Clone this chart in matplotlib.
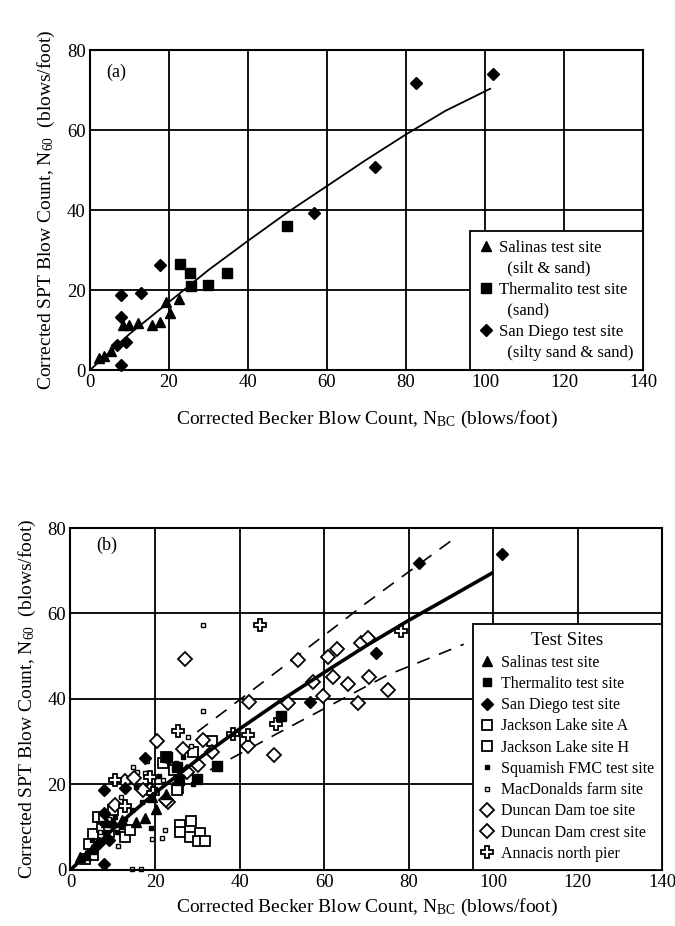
import numpy as np
import matplotlib.pyplot as plt
from matplotlib.lines import Line2D

plt.rcParams['font.family'] = 'Liberation Serif'
plt.rcParams['mathtext.fontset'] = 'custom'
plt.rcParams['mathtext.rm'] = 'Liberation Serif'
plt.rcParams['mathtext.it'] = 'Liberation Serif:italic'
plt.rcParams['mathtext.default'] = 'rm'

# datos (N_BC, N60)
salinas_x = [2.2, 3.6, 5.2, 8.3, 10.0, 12.2, 15.6, 17.7, 19.2, 20.3, 22.6]
salinas_y = [3.0, 3.5, 4.8, 11.3, 11.3, 11.7, 11.3, 12.1, 17.1, 14.2, 17.7]
thermalito_x = [22.9, 25.3, 25.7, 29.9, 34.6, 49.9]
thermalito_y = [26.5, 24.2, 21.0, 21.3, 24.3, 36.1]
sandiego_x = [6.8, 7.9, 7.9, 7.9, 9.0, 13.0, 17.6, 56.7, 72.2, 82.5, 102.0]
sandiego_y = [6.2, 18.8, 13.3, 1.3, 7.1, 19.2, 26.2, 39.2, 50.8, 71.7, 74.0]

jacksonA_x = [5.4, 5.4, 6.4, 7.5, 9.0, 12.9, 14.1, 21.9, 25.4, 33.4, 29.0, 24.5, 22.7, 25.1]
jacksonA_y = [3.5, 8.5, 12.3, 10.0, 9.0, 7.8, 9.3, 25.0, 19.1, 30.1, 27.7, 23.5, 26.5, 18.7]
jacksonH_x = [25.9, 28.6, 25.9, 28.3, 30.6, 30.2, 31.8, 3.5, 8.0, 10.0, 4.5]
jacksonH_y = [10.5, 11.5, 9.0, 7.8, 8.7, 6.8, 6.8, 2.5, 12.0, 14.0, 6.0]
squamish_x = [19.0, 29.0, 26.5, 15.5, 12.0, 7.0, 23.0, 38.5, 17.0, 10.5, 21.0,
              4.0, 6.0, 8.5, 9.5, 11.0, 13.0, 5.0, 7.5, 14.5]
squamish_y = [9.8, 20.1, 26.5, 19.5, 10.0, 7.0, 25.5, 31.8, 16.0, 12.5, 22.0,
              4.0, 5.0, 9.0, 11.0, 9.0, 12.0, 7.0, 11.0, 14.0]
macdonalds_x = [31.4, 31.4, 27.9, 14.9, 15.7, 17.6, 22.3, 19.3, 21.6, 11.3, 14.5, 16.7,
                12.0, 20.0, 22.0, 9.0, 7.0, 25.0, 18.0, 28.5, 13.5]
macdonalds_y = [57.2, 37.1, 31.1, 24.2, 22.9, 22.6, 9.4, 7.2, 7.5, 5.6, 0.3, 0.3,
                17.0, 19.0, 21.0, 12.0, 9.0, 25.0, 25.5, 29.0, 21.5]
duncan_toe_x = [27.1, 42.3, 53.8, 57.4, 59.8, 61.0, 63.0, 62.1, 65.7, 68.1, 68.8,
                70.4, 70.7, 75.1, 51.5, 42.0, 48.2]
duncan_toe_y = [49.4, 39.2, 49.2, 44.0, 40.7, 49.9, 51.8, 45.1, 43.4, 39.0, 53.1,
                54.3, 45.1, 42.2, 39.0, 29.0, 27.0]
duncan_crest_x = [20.4, 31.4, 26.7, 30.2, 33.4, 23.1, 12.9, 22.7, 27.5, 18.8, 10.5, 17.2, 15.0]
duncan_crest_y = [30.2, 30.4, 28.3, 24.6, 27.7, 15.8, 20.9, 16.4, 23.0, 18.7, 15.2, 18.8, 21.5]
annacis_x = [44.8, 25.5, 10.5, 18.8, 38.5, 42.0, 48.5, 78.1, 13.0, 19.5]
annacis_y = [57.2, 32.4, 21.1, 21.7, 31.8, 31.6, 34.2, 55.8, 15.0, 18.0]

# curvas leidas
reg_a_x = [0, 10, 20, 30, 40, 50, 60, 70, 80, 90, 101.3]
reg_a_y = [0, 9.0, 17.0, 25.0, 32.3, 39.4, 46.0, 52.6, 58.9, 64.8, 70.3]
reg_b_x = [0, 10, 20, 30, 40, 50, 60, 70, 80, 90, 99.6]
reg_b_y = [0, 9.5, 18.0, 25.8, 33.0, 39.8, 46.2, 52.5, 58.4, 64.0, 69.4]
up_b_x = [30, 50, 70, 90]
up_b_y = [32.3, 47.3, 62.5, 77.0]
lo_b_x = [33, 50, 75, 93]
lo_b_y = [23.4, 32.5, 45.6, 52.8]

ticks_x = [0, 20, 40, 60, 80, 100, 120, 140]
ticks_y = [0, 20, 40, 60, 80]

xlab = 'Corrected Becker Blow Count, N$_{BC}$ (blows/foot)'
ylab = 'Corrected SPT Blow Count, N$_{60}$  (blows/foot)'

fig = plt.figure(figsize=(6.75, 9.26), dpi=100)
ax1 = fig.add_axes([0.1333, 0.6004, 0.8193, 0.3456])
ax2 = fig.add_axes([0.1044, 0.0605, 0.877, 0.3693])

for ax in (ax1, ax2):
    ax.set_xlim(0, 140)
    ax.set_ylim(0, 80)
    ax.set_xticks(ticks_x)
    ax.set_yticks(ticks_y)
    ax.grid(True, color='k', lw=1.3)
    ax.set_axisbelow(True)
    ax.tick_params(length=0, labelsize=13.5, pad=3)
    for s in ax.spines.values():
        s.set_linewidth(1.5)
    ax.set_ylabel(ylab, fontsize=14, labelpad=7)
ax1.set_xlabel(xlab, fontsize=14, labelpad=13)
ax2.set_xlabel(xlab, fontsize=14, labelpad=4)

# ---- (a)
ax1.plot(reg_a_x, reg_a_y, color='k', lw=1.3)
ax1.plot(salinas_x, salinas_y, '^', color='k', ms=7, clip_on=False)
ax1.plot(thermalito_x, thermalito_y, 's', color='k', ms=6.5)
ax1.plot(sandiego_x, sandiego_y, 'D', color='k', ms=6.5, clip_on=False)
ax1.text(4, 74.5, '(a)', fontsize=13, va='center')

blank = Line2D([], [], ls='none')
h_a = [Line2D([], [], marker='^', ls='none', color='k', ms=7), blank,
       Line2D([], [], marker='s', ls='none', color='k', ms=6.5), blank,
       Line2D([], [], marker='D', ls='none', color='k', ms=6.5), blank]
l_a = ['Salinas test site', '  (silt & sand)', 'Thermalito test site', '  (sand)',
       'San Diego test site', '  (silty sand & sand)']
leg = ax1.legend(h_a, l_a, loc='lower right', bbox_to_anchor=(1, 0), borderaxespad=0,
                 fancybox=False, framealpha=1, edgecolor='k', fontsize=12,
                 handlelength=0.8, handletextpad=0.4, labelspacing=0.3, borderpad=0.55)
leg.get_frame().set_linewidth(1.3)

# ---- (b)
ax2.plot(reg_b_x, reg_b_y, color='k', lw=2.6, zorder=4)
ax2.plot(up_b_x, up_b_y, color='k', lw=1.2, dashes=(8, 6))
ax2.plot(lo_b_x, lo_b_y, color='k', lw=1.2, dashes=(8, 6))

kw_open = dict(ls='none', mfc='white', mec='k', mew=1.3)
ax2.plot(jacksonA_x, jacksonA_y, 's', ms=7, **kw_open)
ax2.plot(jacksonH_x, jacksonH_y, 's', ms=7, **kw_open)
ax2.plot(macdonalds_x, macdonalds_y, 's', ms=3.5, ls='none', mfc='white', mec='k', mew=1.0, clip_on=False)
ax2.plot(duncan_toe_x, duncan_toe_y, 'D', ms=7, **kw_open)
ax2.plot(duncan_crest_x, duncan_crest_y, 'D', ms=7, **kw_open)
ax2.plot(annacis_x, annacis_y, 'P', ms=9, **kw_open)
ax2.plot(squamish_x, squamish_y, 's', color='k', ms=3.5)
ax2.plot(salinas_x, salinas_y, '^', color='k', ms=7, clip_on=False)
ax2.plot(thermalito_x, thermalito_y, 's', color='k', ms=6.5)
ax2.plot(sandiego_x, sandiego_y, 'D', color='k', ms=6.5, clip_on=False)
ax2.text(6, 76, '(b)', fontsize=13, va='center')

h_b = [Line2D([], [], marker='^', ls='none', color='k', ms=7),
       Line2D([], [], marker='s', ls='none', color='k', ms=6),
       Line2D([], [], marker='D', ls='none', color='k', ms=6.5),
       Line2D([], [], marker='s', ms=6.5, **kw_open),
       Line2D([], [], marker='s', ms=6.5, **kw_open),
       Line2D([], [], marker='s', ls='none', color='k', ms=3),
       Line2D([], [], marker='s', ms=3.5, ls='none', mfc='white', mec='k', mew=1.0),
       Line2D([], [], marker='D', ms=7, **kw_open),
       Line2D([], [], marker='D', ms=7, **kw_open),
       Line2D([], [], marker='P', ms=9, **kw_open)]
l_b = ['Salinas test site', 'Thermalito test site', 'San Diego test site',
       'Jackson Lake site A', 'Jackson Lake site H', 'Squamish FMC test site',
       'MacDonalds farm site', 'Duncan Dam toe site', 'Duncan Dam crest site',
       'Annacis north pier']
leg2 = ax2.legend(h_b, l_b, title='Test Sites', loc='lower right', bbox_to_anchor=(1, 0),
                  borderaxespad=0, fancybox=False, framealpha=1, edgecolor='k',
                  fontsize=11.5, title_fontsize=13.5, handlelength=0.8, handletextpad=0.5,
                  labelspacing=0.33, borderpad=0.5)
leg2.get_frame().set_linewidth(1.3)
leg2.set_zorder(10)

fig.savefig('out.png', dpi=100)
